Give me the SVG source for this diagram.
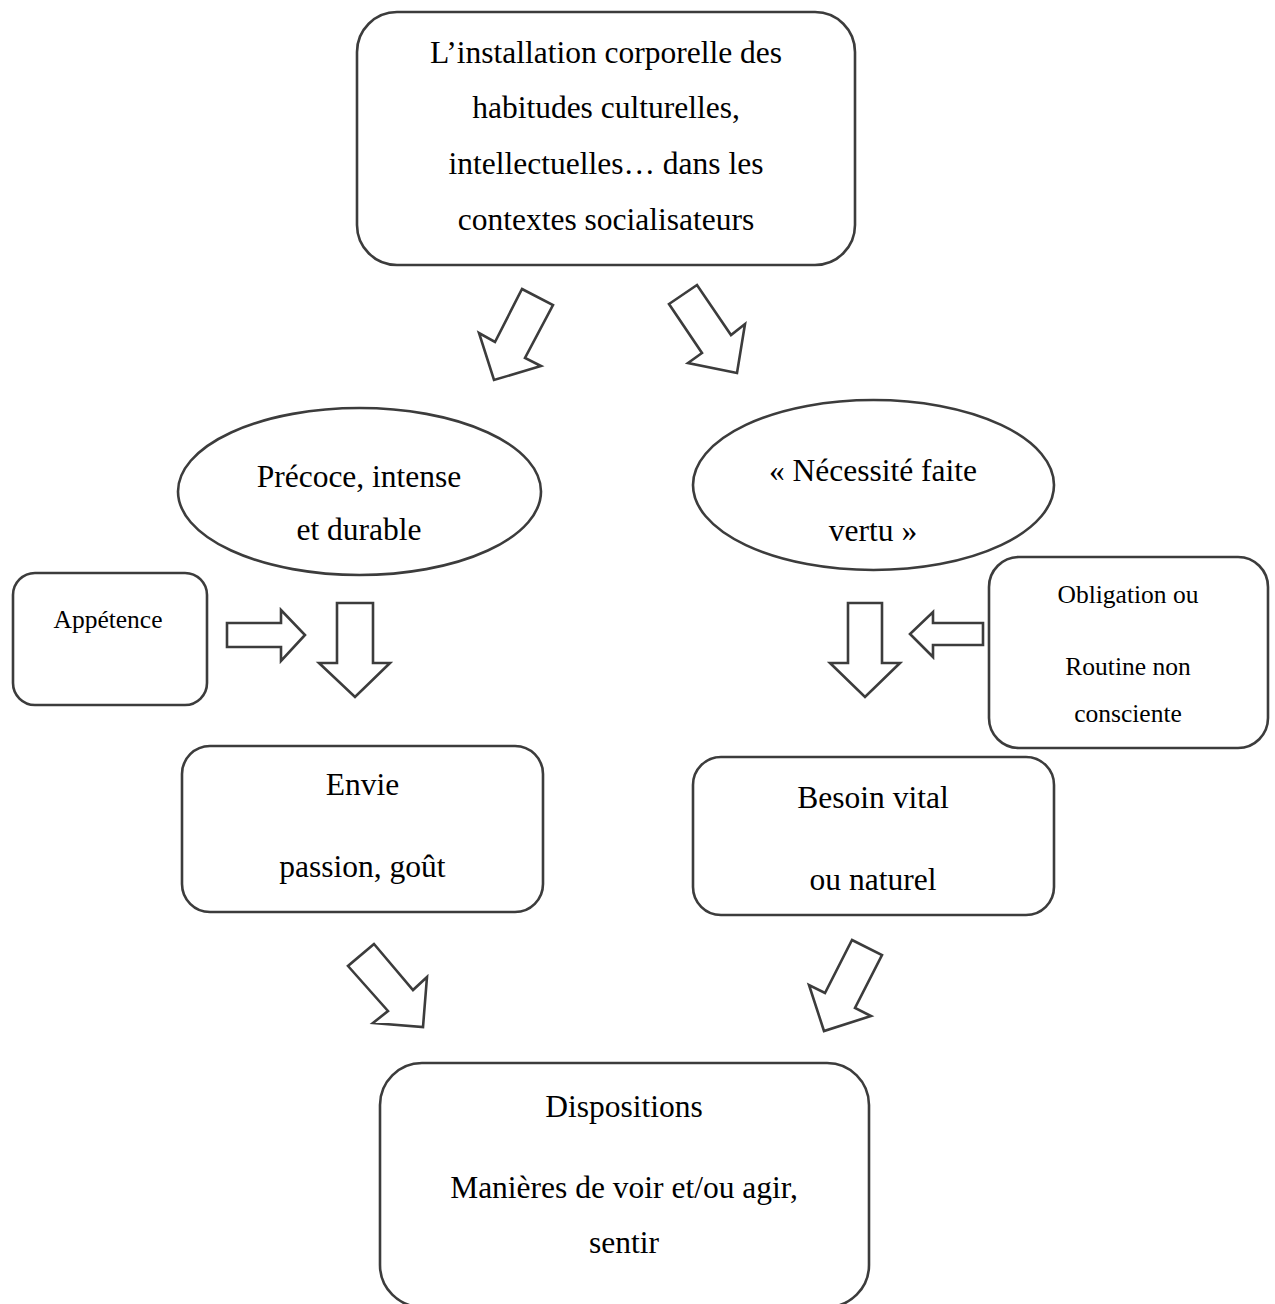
<svg xmlns="http://www.w3.org/2000/svg" width="1275" height="1304" viewBox="0 0 1275 1304">
<style>
.box{fill:#fff;stroke:#3c3c3c;stroke-width:2.6}
.arr{fill:#fff;stroke:#3c3c3c;stroke-width:2.6;stroke-linejoin:miter}
text{font-family:"Liberation Serif","Times New Roman",serif;fill:#000;text-anchor:middle}
.big{font-size:31.5px}
.sm{font-size:25.5px}
</style>
<rect width="1275" height="1304" fill="#fff"/>
<g id="top">
<rect class="box" x="357" y="12" width="498" height="253" rx="40"/>
<text class="big" x="606" y="63">L’installation corporelle des</text>
<text class="big" x="606" y="118">habitudes culturelles,</text>
<text class="big" x="606" y="174">intellectuelles… dans les</text>
<text class="big" x="606" y="230">contextes socialisateurs</text>
</g>
<g id="precoce">
<ellipse class="box" cx="359.5" cy="491.5" rx="181.5" ry="83.5"/>
<text class="big" x="359" y="487">Précoce, intense</text>
<text class="big" x="359" y="540">et durable</text>
</g>
<g id="necessite">
<ellipse class="box" cx="873.5" cy="485" rx="180.5" ry="85"/>
<text class="big" x="873" y="481">« Nécessité faite</text>
<text class="big" x="873" y="541">vertu »</text>
</g>
<g id="appetence">
<rect class="box" x="13" y="573" width="194" height="132" rx="22"/>
<text class="sm" x="108" y="628">Appétence</text>
</g>
<g id="obligation">
<rect class="box" x="989" y="557" width="279" height="191" rx="30"/>
<text class="sm" x="1128" y="603">Obligation ou</text>
<text class="sm" x="1128" y="675">Routine non</text>
<text class="sm" x="1128" y="722">consciente</text>
</g>
<g id="envie">
<rect class="box" x="182" y="746" width="361" height="166" rx="28"/>
<text class="big" x="362.5" y="795">Envie</text>
<text class="big" x="362.5" y="877">passion, goût</text>
</g>
<g id="besoin">
<rect class="box" x="693" y="757" width="361" height="158" rx="28"/>
<text class="big" x="873" y="808">Besoin vital</text>
<text class="big" x="873" y="890">ou naturel</text>
</g>
<g id="dispositions">
<rect class="box" x="380" y="1063" width="489" height="244" rx="42"/>
<text class="big" x="624" y="1117">Dispositions</text>
<text class="big" x="624" y="1198">Manières de voir et/ou agir,</text>
<text class="big" x="624" y="1253">sentir</text>
</g>
<g id="connectors">
<polygon class="arr" points="522,289 553,305 525,358 541,366 494,380 479,333 495,342"/>
<polygon class="arr" points="697,285 669,304 702,353 688,363 737,373 745,324 731,335"/>
<polygon class="arr" points="227,623 281,623 281,610 305,635 281,661 281,647 227,647"/>
<polygon class="arr" points="337,603 373,603 373,663 390,663 355,697 319,663 337,663"/>
<polygon class="arr" points="848,603 882,603 882,663 900,663 865,697 830,663 848,663"/>
<polygon class="arr" points="983,623 933,623 933,612 910,634 933,657 933,645 983,645"/>
<polygon class="arr" points="374,944 348,966 388,1011 373,1023 423,1027 427,977 413,990"/>
<polygon class="arr" points="852,940 882,955 855,1008 871,1016 824,1031 809,985 825,993"/>
</g>
</svg>
